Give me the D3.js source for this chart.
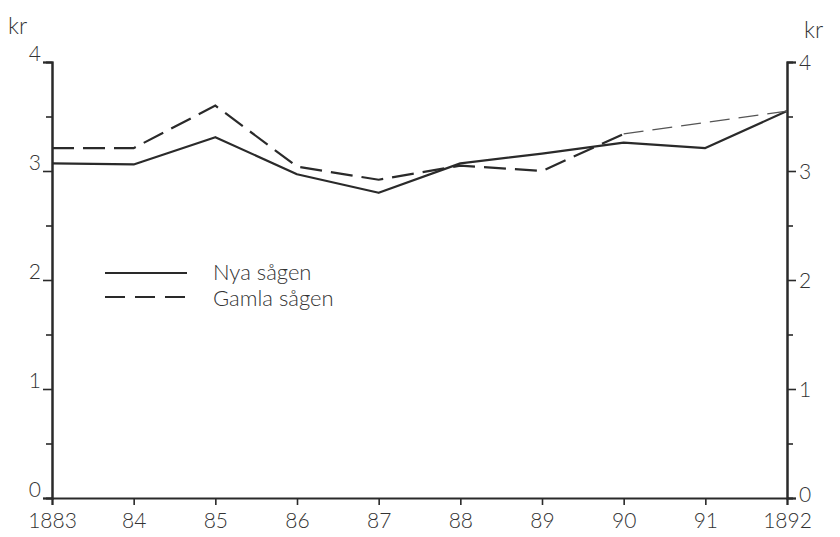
<!DOCTYPE html>
<html>
<head>
<meta charset="utf-8">
<script src="https://cdn.jsdelivr.net/npm/d3@7"></script>
<style>
  html, body { margin: 0; padding: 0; background: #ffffff; }
  svg { display: block; }
  text { font-family: "Lato", "DejaVu Sans", sans-serif; font-weight: 300; fill: #333; }
</style>
</head>
<body>
<script>
// ---- data ----
const years = [1883, 1884, 1885, 1886, 1887, 1888, 1889, 1890, 1891, 1892];
const yearLabels = ["1883", "84", "85", "86", "87", "88", "89", "90", "91", "1892"];
const nyaSagen = [3.07, 3.06, 3.31, 2.97, 2.80, 3.07, 3.16, 3.26, 3.21, 3.55];
const gamlaSagen = [3.21, 3.21, 3.60, 3.04, 2.92, 3.05, 3.00, 3.34, null, 3.55];
const majorTicks = [0, 1, 2, 3, 4];
const minorTicks = [0.5, 1.5, 2.5, 3.5];
const seriesNames = ["Nya sågen", "Gamla sågen"];
const unitLabel = "kr";

// ---- layout ----
const W = 840, H = 537;
const mLeft = 52, mRight = 787, mTop = 62, mBottom = 498;
const ink = "#2a2a2a";

const svg = d3.select("body").append("svg").attr("width", W).attr("height", H);

const x = d3.scaleLinear().domain([1883, 1892]).range([mLeft, mRight]);
const y = d3.scaleLinear().domain([0, 4]).range([mBottom, mTop]);

// left axis
const gL = svg.append("g").attr("transform", `translate(${mLeft},0)`);
gL.call(d3.axisLeft(y).tickValues(majorTicks).tickSize(9).tickFormat(d3.format("d")).tickPadding(2));
gL.append("g").call(d3.axisLeft(y).tickValues(minorTicks).tickSize(6).tickFormat(""));

// right axis
const gR = svg.append("g").attr("transform", `translate(${mRight},0)`);
gR.call(d3.axisRight(y).tickValues(majorTicks).tickSize(9).tickFormat(d3.format("d")).tickPadding(3));
gR.append("g").call(d3.axisRight(y).tickValues(minorTicks).tickSize(6).tickFormat(""));

// bottom axis
const gB = svg.append("g").attr("transform", `translate(0,${mBottom})`);
gB.call(d3.axisBottom(x).tickValues(years).tickSize(7).tickFormat((d, i) => yearLabels[i]).tickPadding(8));

svg.selectAll(".domain").attr("stroke", ink).attr("stroke-width", 2);
svg.selectAll(".tick line").attr("stroke", ink).attr("stroke-width", 1.6);
svg.selectAll(".tick text").attr("font-size", 21).attr("fill", "#333")
  .attr("font-family", "Lato, 'DejaVu Sans', sans-serif").attr("font-weight", 300);
gL.selectAll(".tick text").attr("dy", "-0.05em");
gR.selectAll(".tick text").attr("dy", d => d === 0 ? "0.15em" : "0.35em");

// unit labels
svg.append("text").attr("x", 8).attr("y", 34).attr("font-size", 23).text(unitLabel);
svg.append("text").attr("x", 804).attr("y", 38).attr("font-size", 23).text(unitLabel);

// lines
const line = d3.line().defined(d => d[1] !== null).x(d => x(d[0])).y(d => y(d[1]));
const nyaData = years.map((yr, i) => [yr, nyaSagen[i]]);
const gamlaData = years.map((yr, i) => [yr, gamlaSagen[i]]);

svg.append("path").datum(nyaData).attr("d", line)
  .attr("fill", "none").attr("stroke", ink).attr("stroke-width", 2.2).attr("stroke-linejoin", "round");

// thin dashed bridges across missing values
const bridges = [];
gamlaData.forEach((d, i) => {
  if (d[1] === null) return;
  let j = i + 1;
  while (j < gamlaData.length && gamlaData[j][1] === null) j++;
  if (j > i + 1 && j < gamlaData.length) bridges.push([d, gamlaData[j]]);
});
svg.selectAll(".bridge").data(bridges).join("path").attr("class", "bridge")
  .attr("d", d3.line().x(d => x(d[0])).y(d => y(d[1])))
  .attr("fill", "none").attr("stroke", "#555").attr("stroke-width", 1.3).attr("stroke-dasharray", "20,9");

svg.append("path").datum(gamlaData).attr("d", line)
  .attr("fill", "none").attr("stroke", ink).attr("stroke-width", 2.2).attr("stroke-dasharray", "22,9");

// legend
const lg = svg.append("g");
lg.append("line").attr("x1", 105).attr("x2", 187).attr("y1", 273).attr("y2", 273)
  .attr("stroke", ink).attr("stroke-width", 2);
lg.append("line").attr("x1", 105).attr("x2", 187).attr("y1", 297).attr("y2", 297)
  .attr("stroke", ink).attr("stroke-width", 2).attr("stroke-dasharray", "20,10");
lg.append("text").attr("x", 213).attr("y", 280).attr("font-size", 22).text(seriesNames[0]);
lg.append("text").attr("x", 213).attr("y", 306).attr("font-size", 22).text(seriesNames[1]);
</script>
</body>
</html>
